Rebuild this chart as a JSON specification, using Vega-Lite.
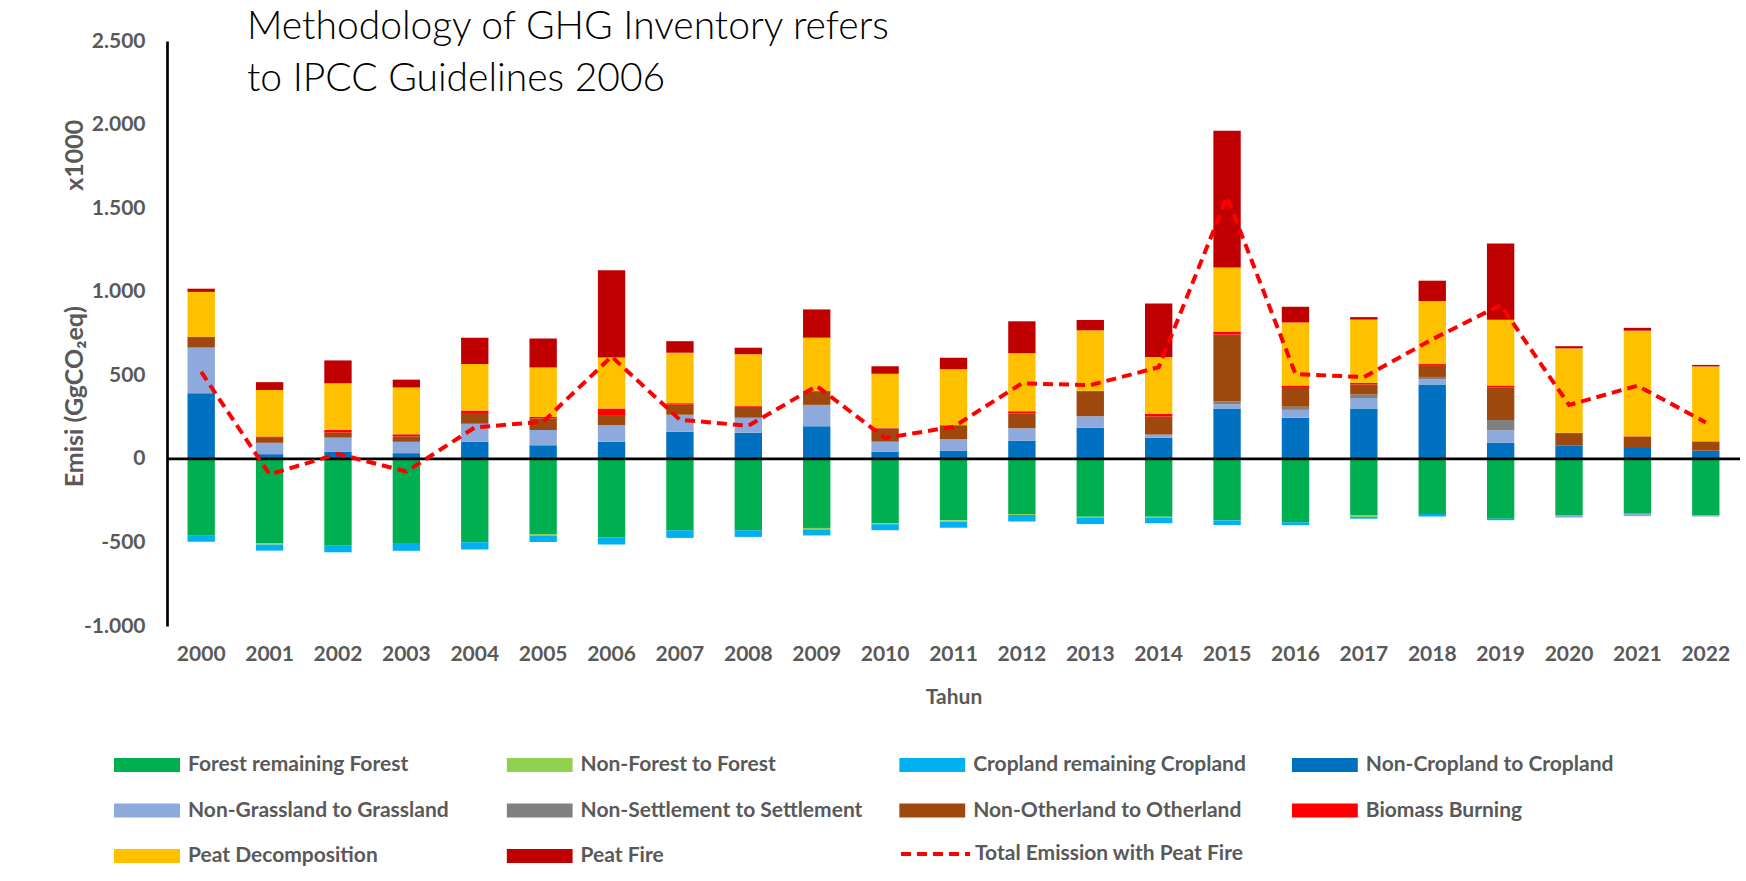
{
  "$schema": "https://vega.github.io/schema/vega-lite/v6.json",
  "width": 1573,
  "height": 585,
  "autosize": {"type": "none"},
  "padding": {"left": 167, "top": 41, "right": 6, "bottom": 255},
  "background": "white",
  "config": {
    "view": {"stroke": null},
    "font": "Lato"
  },
  "title": {
    "text": ["Methodology of GHG Inventory refers", "to IPCC Guidelines 2006"],
    "orient": "top",
    "anchor": "start",
    "frame": "group",
    "font": "Lato",
    "fontSize": 39,
    "fontWeight": 300,
    "color": "#000000",
    "lineHeight": 52,
    "baseline": "top",
    "offset": 0,
    "dx": 80,
    "dy": 69
  },
  "datasets": {
    "urutan": [
      {"cat": "Forest remaining Forest", "k": 0},
      {"cat": "Non-Forest to Forest", "k": 1},
      {"cat": "Cropland remaining Cropland", "k": 2},
      {"cat": "Non-Cropland to Cropland", "k": 3},
      {"cat": "Non-Grassland to Grassland", "k": 4},
      {"cat": "Non-Settlement to Settlement", "k": 5},
      {"cat": "Non-Otherland to Otherland", "k": 6},
      {"cat": "Biomass Burning", "k": 7},
      {"cat": "Peat Decomposition", "k": 8},
      {"cat": "Peat Fire", "k": 9}
    ],
    "emisi": [
      {"Tahun": "2000", "cat": "Forest remaining Forest", "v": -460},
      {"Tahun": "2000", "cat": "Cropland remaining Cropland", "v": -36},
      {"Tahun": "2000", "cat": "Non-Cropland to Cropland", "v": 392},
      {"Tahun": "2000", "cat": "Non-Grassland to Grassland", "v": 274},
      {"Tahun": "2000", "cat": "Non-Otherland to Otherland", "v": 58},
      {"Tahun": "2000", "cat": "Biomass Burning", "v": 7},
      {"Tahun": "2000", "cat": "Peat Decomposition", "v": 268},
      {"Tahun": "2000", "cat": "Peat Fire", "v": 19},

      {"Tahun": "2001", "cat": "Forest remaining Forest", "v": -507},
      {"Tahun": "2001", "cat": "Non-Forest to Forest", "v": -6},
      {"Tahun": "2001", "cat": "Cropland remaining Cropland", "v": -36},
      {"Tahun": "2001", "cat": "Non-Cropland to Cropland", "v": 28},
      {"Tahun": "2001", "cat": "Non-Grassland to Grassland", "v": 68},
      {"Tahun": "2001", "cat": "Non-Otherland to Otherland", "v": 34},
      {"Tahun": "2001", "cat": "Biomass Burning", "v": 4},
      {"Tahun": "2001", "cat": "Peat Decomposition", "v": 278},
      {"Tahun": "2001", "cat": "Peat Fire", "v": 47},

      {"Tahun": "2002", "cat": "Forest remaining Forest", "v": -520},
      {"Tahun": "2002", "cat": "Cropland remaining Cropland", "v": -39},
      {"Tahun": "2002", "cat": "Non-Cropland to Cropland", "v": 43},
      {"Tahun": "2002", "cat": "Non-Grassland to Grassland", "v": 84},
      {"Tahun": "2002", "cat": "Non-Otherland to Otherland", "v": 30},
      {"Tahun": "2002", "cat": "Biomass Burning", "v": 17},
      {"Tahun": "2002", "cat": "Peat Decomposition", "v": 278},
      {"Tahun": "2002", "cat": "Peat Fire", "v": 137},

      {"Tahun": "2003", "cat": "Forest remaining Forest", "v": -503},
      {"Tahun": "2003", "cat": "Cropland remaining Cropland", "v": -47},
      {"Tahun": "2003", "cat": "Non-Cropland to Cropland", "v": 34},
      {"Tahun": "2003", "cat": "Non-Grassland to Grassland", "v": 68},
      {"Tahun": "2003", "cat": "Non-Otherland to Otherland", "v": 32},
      {"Tahun": "2003", "cat": "Biomass Burning", "v": 13},
      {"Tahun": "2003", "cat": "Peat Decomposition", "v": 280},
      {"Tahun": "2003", "cat": "Peat Fire", "v": 47},

      {"Tahun": "2004", "cat": "Forest remaining Forest", "v": -499},
      {"Tahun": "2004", "cat": "Cropland remaining Cropland", "v": -43},
      {"Tahun": "2004", "cat": "Non-Cropland to Cropland", "v": 103},
      {"Tahun": "2004", "cat": "Non-Grassland to Grassland", "v": 107},
      {"Tahun": "2004", "cat": "Non-Otherland to Otherland", "v": 64},
      {"Tahun": "2004", "cat": "Biomass Burning", "v": 15},
      {"Tahun": "2004", "cat": "Peat Decomposition", "v": 278},
      {"Tahun": "2004", "cat": "Peat Fire", "v": 158},

      {"Tahun": "2005", "cat": "Forest remaining Forest", "v": -450},
      {"Tahun": "2005", "cat": "Non-Forest to Forest", "v": -8},
      {"Tahun": "2005", "cat": "Cropland remaining Cropland", "v": -39},
      {"Tahun": "2005", "cat": "Non-Cropland to Cropland", "v": 81},
      {"Tahun": "2005", "cat": "Non-Grassland to Grassland", "v": 92},
      {"Tahun": "2005", "cat": "Non-Otherland to Otherland", "v": 69},
      {"Tahun": "2005", "cat": "Biomass Burning", "v": 9},
      {"Tahun": "2005", "cat": "Peat Decomposition", "v": 296},
      {"Tahun": "2005", "cat": "Peat Fire", "v": 173},

      {"Tahun": "2006", "cat": "Forest remaining Forest", "v": -469},
      {"Tahun": "2006", "cat": "Cropland remaining Cropland", "v": -43},
      {"Tahun": "2006", "cat": "Non-Cropland to Cropland", "v": 103},
      {"Tahun": "2006", "cat": "Non-Grassland to Grassland", "v": 98},
      {"Tahun": "2006", "cat": "Non-Otherland to Otherland", "v": 62},
      {"Tahun": "2006", "cat": "Biomass Burning", "v": 39},
      {"Tahun": "2006", "cat": "Peat Decomposition", "v": 304},
      {"Tahun": "2006", "cat": "Peat Fire", "v": 522},

      {"Tahun": "2007", "cat": "Forest remaining Forest", "v": -428},
      {"Tahun": "2007", "cat": "Cropland remaining Cropland", "v": -45},
      {"Tahun": "2007", "cat": "Non-Cropland to Cropland", "v": 163},
      {"Tahun": "2007", "cat": "Non-Grassland to Grassland", "v": 101},
      {"Tahun": "2007", "cat": "Non-Otherland to Otherland", "v": 60},
      {"Tahun": "2007", "cat": "Biomass Burning", "v": 9},
      {"Tahun": "2007", "cat": "Peat Decomposition", "v": 302},
      {"Tahun": "2007", "cat": "Peat Fire", "v": 69},

      {"Tahun": "2008", "cat": "Forest remaining Forest", "v": -428},
      {"Tahun": "2008", "cat": "Cropland remaining Cropland", "v": -39},
      {"Tahun": "2008", "cat": "Non-Cropland to Cropland", "v": 156},
      {"Tahun": "2008", "cat": "Non-Grassland to Grassland", "v": 90},
      {"Tahun": "2008", "cat": "Non-Otherland to Otherland", "v": 66},
      {"Tahun": "2008", "cat": "Biomass Burning", "v": 4},
      {"Tahun": "2008", "cat": "Peat Decomposition", "v": 310},
      {"Tahun": "2008", "cat": "Peat Fire", "v": 39},

      {"Tahun": "2009", "cat": "Forest remaining Forest", "v": -413},
      {"Tahun": "2009", "cat": "Non-Forest to Forest", "v": -9},
      {"Tahun": "2009", "cat": "Cropland remaining Cropland", "v": -36},
      {"Tahun": "2009", "cat": "Non-Cropland to Cropland", "v": 195},
      {"Tahun": "2009", "cat": "Non-Grassland to Grassland", "v": 128},
      {"Tahun": "2009", "cat": "Non-Otherland to Otherland", "v": 79},
      {"Tahun": "2009", "cat": "Biomass Burning", "v": 6},
      {"Tahun": "2009", "cat": "Peat Decomposition", "v": 317},
      {"Tahun": "2009", "cat": "Peat Fire", "v": 169},

      {"Tahun": "2010", "cat": "Forest remaining Forest", "v": -385},
      {"Tahun": "2010", "cat": "Non-Forest to Forest", "v": -6},
      {"Tahun": "2010", "cat": "Cropland remaining Cropland", "v": -36},
      {"Tahun": "2010", "cat": "Non-Cropland to Cropland", "v": 43},
      {"Tahun": "2010", "cat": "Non-Grassland to Grassland", "v": 60},
      {"Tahun": "2010", "cat": "Non-Otherland to Otherland", "v": 79},
      {"Tahun": "2010", "cat": "Biomass Burning", "v": 2},
      {"Tahun": "2010", "cat": "Peat Decomposition", "v": 325},
      {"Tahun": "2010", "cat": "Peat Fire", "v": 45},

      {"Tahun": "2011", "cat": "Forest remaining Forest", "v": -368},
      {"Tahun": "2011", "cat": "Non-Forest to Forest", "v": -8},
      {"Tahun": "2011", "cat": "Cropland remaining Cropland", "v": -36},
      {"Tahun": "2011", "cat": "Non-Cropland to Cropland", "v": 49},
      {"Tahun": "2011", "cat": "Non-Grassland to Grassland", "v": 69},
      {"Tahun": "2011", "cat": "Non-Otherland to Otherland", "v": 81},
      {"Tahun": "2011", "cat": "Biomass Burning", "v": 3},
      {"Tahun": "2011", "cat": "Peat Decomposition", "v": 334},
      {"Tahun": "2011", "cat": "Peat Fire", "v": 69},

      {"Tahun": "2012", "cat": "Forest remaining Forest", "v": -330},
      {"Tahun": "2012", "cat": "Non-Forest to Forest", "v": -6},
      {"Tahun": "2012", "cat": "Cropland remaining Cropland", "v": -39},
      {"Tahun": "2012", "cat": "Non-Cropland to Cropland", "v": 109},
      {"Tahun": "2012", "cat": "Non-Grassland to Grassland", "v": 73},
      {"Tahun": "2012", "cat": "Non-Settlement to Settlement", "v": 2},
      {"Tahun": "2012", "cat": "Non-Otherland to Otherland", "v": 88},
      {"Tahun": "2012", "cat": "Biomass Burning", "v": 13},
      {"Tahun": "2012", "cat": "Peat Decomposition", "v": 347},
      {"Tahun": "2012", "cat": "Peat Fire", "v": 191},

      {"Tahun": "2013", "cat": "Forest remaining Forest", "v": -347},
      {"Tahun": "2013", "cat": "Non-Forest to Forest", "v": -4},
      {"Tahun": "2013", "cat": "Cropland remaining Cropland", "v": -39},
      {"Tahun": "2013", "cat": "Non-Cropland to Cropland", "v": 186},
      {"Tahun": "2013", "cat": "Non-Grassland to Grassland", "v": 69},
      {"Tahun": "2013", "cat": "Non-Otherland to Otherland", "v": 150},
      {"Tahun": "2013", "cat": "Biomass Burning", "v": 2},
      {"Tahun": "2013", "cat": "Peat Decomposition", "v": 362},
      {"Tahun": "2013", "cat": "Peat Fire", "v": 62},

      {"Tahun": "2014", "cat": "Forest remaining Forest", "v": -347},
      {"Tahun": "2014", "cat": "Non-Forest to Forest", "v": -4},
      {"Tahun": "2014", "cat": "Cropland remaining Cropland", "v": -34},
      {"Tahun": "2014", "cat": "Non-Cropland to Cropland", "v": 126},
      {"Tahun": "2014", "cat": "Non-Grassland to Grassland", "v": 17},
      {"Tahun": "2014", "cat": "Non-Settlement to Settlement", "v": 3},
      {"Tahun": "2014", "cat": "Non-Otherland to Otherland", "v": 107},
      {"Tahun": "2014", "cat": "Biomass Burning", "v": 17},
      {"Tahun": "2014", "cat": "Peat Decomposition", "v": 340},
      {"Tahun": "2014", "cat": "Peat Fire", "v": 319},

      {"Tahun": "2015", "cat": "Forest remaining Forest", "v": -368},
      {"Tahun": "2015", "cat": "Cropland remaining Cropland", "v": -28},
      {"Tahun": "2015", "cat": "Non-Cropland to Cropland", "v": 302},
      {"Tahun": "2015", "cat": "Non-Grassland to Grassland", "v": 24},
      {"Tahun": "2015", "cat": "Non-Settlement to Settlement", "v": 17},
      {"Tahun": "2015", "cat": "Non-Otherland to Otherland", "v": 400},
      {"Tahun": "2015", "cat": "Biomass Burning", "v": 19},
      {"Tahun": "2015", "cat": "Peat Decomposition", "v": 383},
      {"Tahun": "2015", "cat": "Peat Fire", "v": 818},

      {"Tahun": "2016", "cat": "Forest remaining Forest", "v": -379},
      {"Tahun": "2016", "cat": "Cropland remaining Cropland", "v": -17},
      {"Tahun": "2016", "cat": "Non-Cropland to Cropland", "v": 246},
      {"Tahun": "2016", "cat": "Non-Grassland to Grassland", "v": 47},
      {"Tahun": "2016", "cat": "Non-Settlement to Settlement", "v": 19},
      {"Tahun": "2016", "cat": "Non-Otherland to Otherland", "v": 118},
      {"Tahun": "2016", "cat": "Biomass Burning", "v": 9},
      {"Tahun": "2016", "cat": "Peat Decomposition", "v": 377},
      {"Tahun": "2016", "cat": "Peat Fire", "v": 94},

      {"Tahun": "2017", "cat": "Forest remaining Forest", "v": -336},
      {"Tahun": "2017", "cat": "Non-Forest to Forest", "v": -11},
      {"Tahun": "2017", "cat": "Cropland remaining Cropland", "v": -11},
      {"Tahun": "2017", "cat": "Non-Cropland to Cropland", "v": 302},
      {"Tahun": "2017", "cat": "Non-Grassland to Grassland", "v": 62},
      {"Tahun": "2017", "cat": "Non-Settlement to Settlement", "v": 21},
      {"Tahun": "2017", "cat": "Non-Otherland to Otherland", "v": 60},
      {"Tahun": "2017", "cat": "Biomass Burning", "v": 9},
      {"Tahun": "2017", "cat": "Peat Decomposition", "v": 379},
      {"Tahun": "2017", "cat": "Peat Fire", "v": 15},

      {"Tahun": "2018", "cat": "Forest remaining Forest", "v": -330},
      {"Tahun": "2018", "cat": "Cropland remaining Cropland", "v": -15},
      {"Tahun": "2018", "cat": "Non-Cropland to Cropland", "v": 445},
      {"Tahun": "2018", "cat": "Non-Grassland to Grassland", "v": 32},
      {"Tahun": "2018", "cat": "Non-Settlement to Settlement", "v": 13},
      {"Tahun": "2018", "cat": "Non-Otherland to Otherland", "v": 71},
      {"Tahun": "2018", "cat": "Biomass Burning", "v": 6},
      {"Tahun": "2018", "cat": "Peat Decomposition", "v": 377},
      {"Tahun": "2018", "cat": "Peat Fire", "v": 122},

      {"Tahun": "2019", "cat": "Forest remaining Forest", "v": -358},
      {"Tahun": "2019", "cat": "Cropland remaining Cropland", "v": -9},
      {"Tahun": "2019", "cat": "Non-Cropland to Cropland", "v": 96},
      {"Tahun": "2019", "cat": "Non-Grassland to Grassland", "v": 75},
      {"Tahun": "2019", "cat": "Non-Settlement to Settlement", "v": 62},
      {"Tahun": "2019", "cat": "Non-Otherland to Otherland", "v": 193},
      {"Tahun": "2019", "cat": "Biomass Burning", "v": 13},
      {"Tahun": "2019", "cat": "Peat Decomposition", "v": 394},
      {"Tahun": "2019", "cat": "Peat Fire", "v": 456},

      {"Tahun": "2020", "cat": "Forest remaining Forest", "v": -336},
      {"Tahun": "2020", "cat": "Non-Grassland to Grassland", "v": -15},
      {"Tahun": "2020", "cat": "Non-Cropland to Cropland", "v": 81},
      {"Tahun": "2020", "cat": "Non-Otherland to Otherland", "v": 73},
      {"Tahun": "2020", "cat": "Biomass Burning", "v": 2},
      {"Tahun": "2020", "cat": "Peat Decomposition", "v": 505},
      {"Tahun": "2020", "cat": "Peat Fire", "v": 13},

      {"Tahun": "2021", "cat": "Forest remaining Forest", "v": -328},
      {"Tahun": "2021", "cat": "Non-Grassland to Grassland", "v": -15},
      {"Tahun": "2021", "cat": "Non-Cropland to Cropland", "v": 71},
      {"Tahun": "2021", "cat": "Non-Otherland to Otherland", "v": 62},
      {"Tahun": "2021", "cat": "Biomass Burning", "v": 2},
      {"Tahun": "2021", "cat": "Peat Decomposition", "v": 632},
      {"Tahun": "2021", "cat": "Peat Fire", "v": 17},

      {"Tahun": "2022", "cat": "Forest remaining Forest", "v": -336},
      {"Tahun": "2022", "cat": "Non-Grassland to Grassland", "v": -9},
      {"Tahun": "2022", "cat": "Non-Cropland to Cropland", "v": 49},
      {"Tahun": "2022", "cat": "Non-Otherland to Otherland", "v": 54},
      {"Tahun": "2022", "cat": "Biomass Burning", "v": 2},
      {"Tahun": "2022", "cat": "Peat Decomposition", "v": 448},
      {"Tahun": "2022", "cat": "Peat Fire", "v": 9}
    ],
    "total": [
      {"Tahun": "2000", "total": 520},
      {"Tahun": "2001", "total": -93},
      {"Tahun": "2002", "total": 30},
      {"Tahun": "2003", "total": -76},
      {"Tahun": "2004", "total": 188},
      {"Tahun": "2005", "total": 222},
      {"Tahun": "2006", "total": 612},
      {"Tahun": "2007", "total": 234},
      {"Tahun": "2008", "total": 198},
      {"Tahun": "2009", "total": 436},
      {"Tahun": "2010", "total": 125},
      {"Tahun": "2011", "total": 192},
      {"Tahun": "2012", "total": 452},
      {"Tahun": "2013", "total": 441},
      {"Tahun": "2014", "total": 548},
      {"Tahun": "2015", "total": 1567},
      {"Tahun": "2016", "total": 508},
      {"Tahun": "2017", "total": 489},
      {"Tahun": "2018", "total": 715},
      {"Tahun": "2019", "total": 920},
      {"Tahun": "2020", "total": 322},
      {"Tahun": "2021", "total": 438},
      {"Tahun": "2022", "total": 218}
    ]
  },
  "layer": [
    {
      "data": {"name": "emisi"},
      "transform": [
        {"lookup": "cat", "from": {"data": {"name": "urutan"}, "key": "cat", "fields": ["k"]}}
      ],
      "mark": {"type": "bar"},
      "encoding": {
        "x": {
          "field": "Tahun",
          "type": "nominal",
          "scale": {"paddingInner": 0.6, "paddingOuter": 0.3},
          "axis": {
            "title": "Tahun",
            "labelAngle": 0,
            "domain": false,
            "ticks": false,
            "tickSize": 0,
            "labelPadding": 17,
            "labelFont": "Lato",
            "labelFontSize": 21,
            "labelFontWeight": "bold",
            "labelColor": "#595959",
            "labelBaseline": "top",
            "titleFont": "Lato",
            "titleFontSize": 21,
            "titleFontWeight": "bold",
            "titleColor": "#595959",
            "titlePadding": 22
          }
        },
        "y": {
          "field": "v",
          "type": "quantitative",
          "stack": "zero",
          "scale": {"domain": [-1000, 2500], "nice": false, "zero": false},
          "axis": {
            "values": [-1000, -500, 0, 500, 1000, 1500, 2000, 2500],
            "labelExpr": "replace(replace(format(datum.value, ','), ',', '.'), '\u2212', '-')",
            "grid": false,
            "ticks": false,
            "tickSize": 0,
            "domain": true,
            "domainColor": "#000000",
            "domainWidth": 2.7,
            "labelPadding": 22,
            "labelFont": "Lato",
            "labelFontSize": 21,
            "labelFontWeight": "bold",
            "labelColor": "#595959",
            "title": "Emisi (GgCO\u2082eq)\u00a0\u00a0\u00a0\u00a0\u00a0\u00a0\u00a0\u00a0\u00a0\u00a0\u00a0\u00a0\u00a0\u00a0\u00a0\u00a0\u00a0\u00a0\u00a0x1000",
            "titleFont": "Lato",
            "titleFontSize": 25,
            "titleFontWeight": "bold",
            "titleColor": "#595959",
            "titleX": -93,
            "titleY": 262,
            "titleAlign": "center",
            "titleBaseline": "middle",
            "titleAngle": -90
          }
        },
        "order": {"field": "k", "type": "quantitative", "sort": "ascending"},
        "color": {
          "field": "cat",
          "type": "nominal",
          "scale": {
            "domain": ["Forest remaining Forest", "Non-Forest to Forest", "Cropland remaining Cropland", "Non-Cropland to Cropland", "Non-Grassland to Grassland", "Non-Settlement to Settlement", "Non-Otherland to Otherland", "Biomass Burning", "Peat Decomposition", "Peat Fire"],
            "range": ["#00B050", "#92D050", "#00B0F0", "#0070C0", "#8EA9DB", "#808080", "#9E480E", "#FF0000", "#FFC000", "#C00000"]
          },
          "legend": {
            "title": null,
            "orient": "none",
            "legendX": -53,
            "legendY": 714,
            "direction": "horizontal",
            "columns": 4,
            "gridAlign": "all",
            "columnPadding": 36.6,
            "rowPadding": 24.5,
            "clipHeight": 20,
            "padding": 0,
            "symbolType": "M-1,-0.21H1V0.21H-1Z",
            "symbolSize": 4356,
            "symbolStrokeWidth": 0,
            "symbolOpacity": 1,
            "labelOffset": 8,
            "labelLimit": 400,
            "labelFont": "Lato",
            "labelFontSize": 21,
            "labelFontWeight": "bold",
            "labelColor": "#595959"
          }
        }
      }
    },
    {
      "data": {"values": [{}]},
      "mark": {"type": "rule", "color": "#000000", "strokeWidth": 2.7},
      "encoding": {"y": {"datum": 0}}
    },
    {
      "data": {"name": "total"},
      "mark": {"type": "line", "strokeWidth": 4, "strokeDash": [10, 6]},
      "encoding": {
        "x": {"field": "Tahun", "type": "nominal"},
        "y": {"field": "total", "type": "quantitative"},
        "stroke": {
          "datum": "Total Emission with Peat Fire",
          "scale": {"domain": ["Total Emission with Peat Fire"], "range": ["#FF0000"]},
          "legend": {
            "title": null,
            "orient": "none",
            "legendX": 732,
            "legendY": 803,
            "clipHeight": 20,
            "padding": 0,
            "symbolType": "stroke",
            "symbolSize": 4761,
            "symbolStrokeWidth": 4,
            "symbolDash": [10, 6],
            "labelOffset": 3,
            "labelLimit": 400,
            "labelFont": "Lato",
            "labelFontSize": 21,
            "labelFontWeight": "bold",
            "labelColor": "#595959"
          }
        }
      }
    }
  ]
}
